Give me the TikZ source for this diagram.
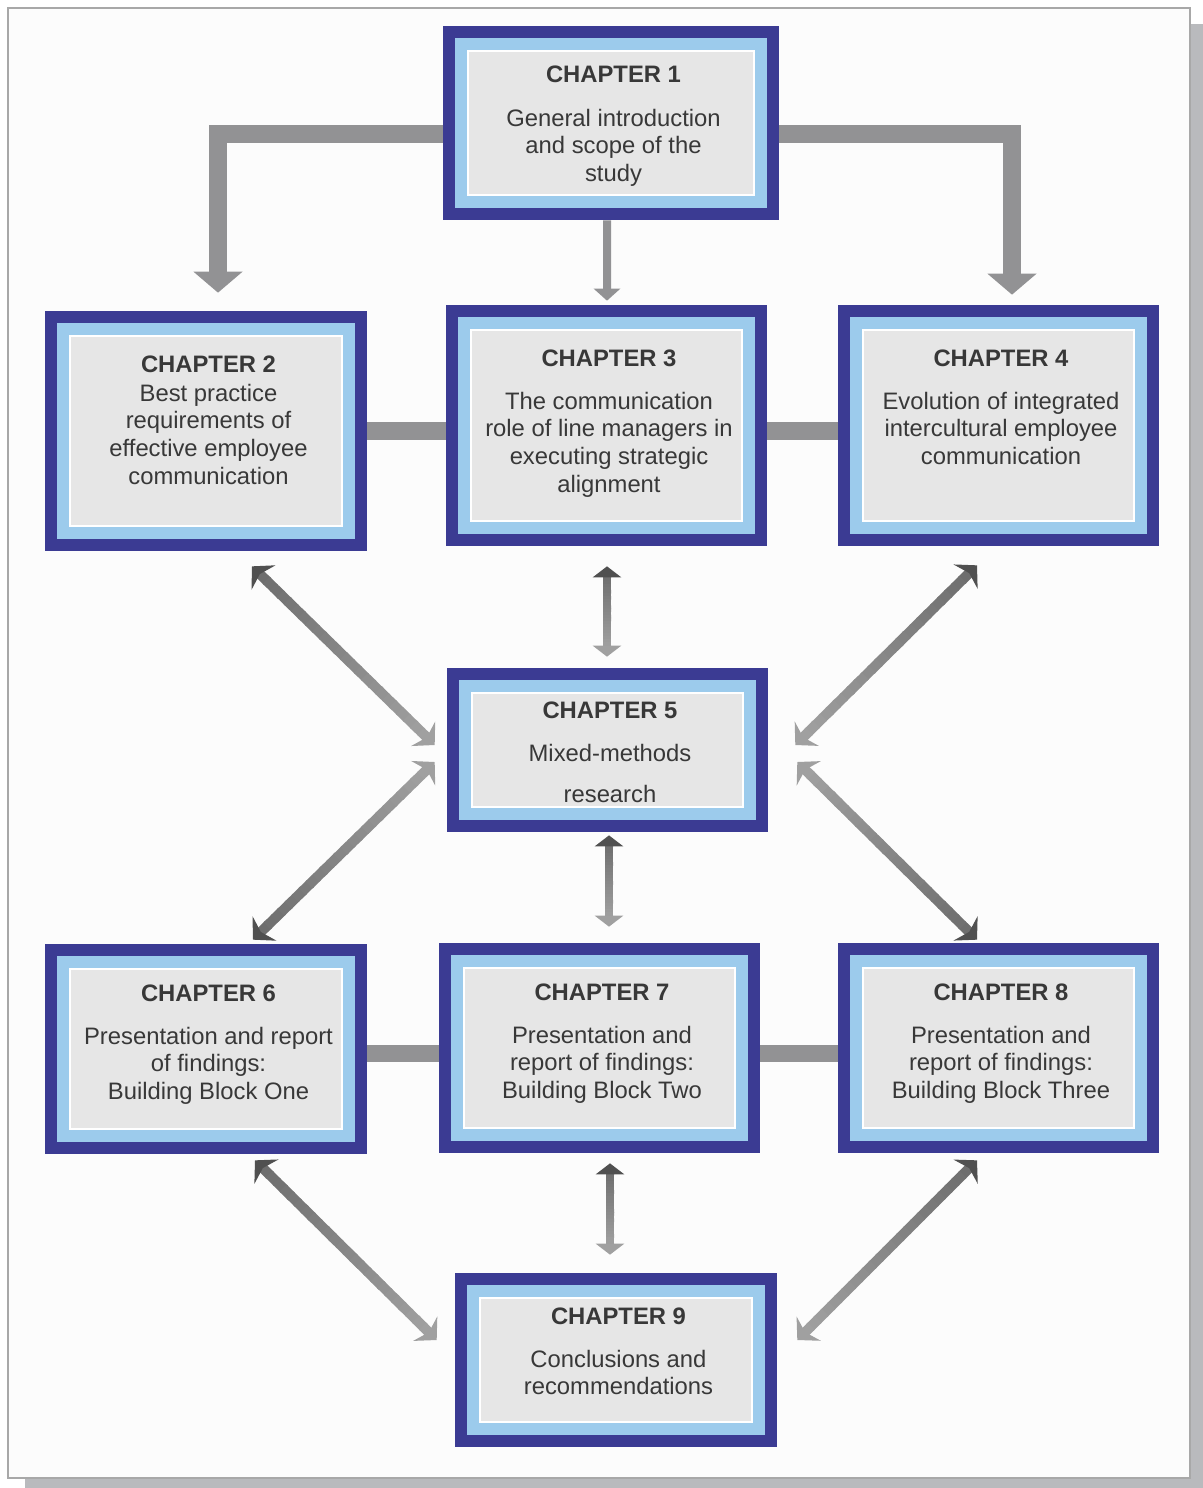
\documentclass[tikz,border=0pt]{standalone}
\usepackage{fontspec}
\setmainfont{Liberation Sans}
\usetikzlibrary{arrows.meta,calc}

\definecolor{dkblue}{HTML}{3B3B93}
\definecolor{ltblue}{HTML}{9CCBEC}
\definecolor{panel}{HTML}{E6E6E6}
\definecolor{txtgray}{HTML}{383838}
\definecolor{bargray}{HTML}{929294}
\definecolor{arrdark}{HTML}{505050}
\definecolor{arrmid}{HTML}{6E6E6E}
\definecolor{arrlight}{HTML}{A0A0A0}
\definecolor{framegray}{HTML}{A8A8A8}
\definecolor{shadowgray}{HTML}{B9BABD}

\newcommand\chfont{\fontsize{13.55pt}{15.75pt}\selectfont}

% double-headed connector whose colour fades from the first end to the second
% #1 dark end, #2 light end, #3 shaft width, #4 tip, #5 shaft set-back from each tip
\newcommand\gradarrow[5]{%
  \coordinate (gaS) at ($(#1)!#5!(#2)$);
  \coordinate (gaE) at ($(#2)!#5!(#1)$);
  \foreach \k in {0,...,23}{%
    \pgfmathsetmacro\ka{\k/24}%
    \pgfmathsetmacro\kb{min((\k+1.2)/24,1)}%
    \pgfmathtruncatemacro\mx{100-\k*100/23}%
    \draw[line width=#3, draw=arrmid!\mx!arrlight] ($(gaS)!\ka!(gaE)$) -- ($(gaS)!\kb!(gaE)$);
  }%
  \draw[line width=#3, arrdark, -{#4}] (gaS) -- (#1);
  \draw[line width=#3, arrlight, -{#4}] (gaE) -- (#2);
}

\tikzset{
  chbox/.style 2 args={rectangle, inner sep=0, minimum width=#1, minimum height=#2,
    fill=dkblue, path picture={
      \fill[ltblue] ([shift={(0.24cm,-0.24cm)}]path picture bounding box.north west)
        rectangle ([shift={(-0.24cm,0.24cm)}]path picture bounding box.south east);
      \fill[white] ([shift={(0.48cm,-0.48cm)}]path picture bounding box.north west)
        rectangle ([shift={(-0.48cm,0.48cm)}]path picture bounding box.south east);
      \fill[panel] ([shift={(0.52cm,-0.52cm)}]path picture bounding box.north west)
        rectangle ([shift={(-0.52cm,0.52cm)}]path picture bounding box.south east);
    }},
  titletxt/.style={font=\chfont\bfseries, text=txtgray, anchor=base, inner sep=0},
  bodytxt/.style={font=\chfont, text=txtgray, anchor=base, inner sep=0},
  heavybar/.style={draw=bargray, line width=0.35cm},
  thinshaft/.style={draw=bargray, line width=0.16cm},
  diaghead/.style={},
}

\begin{document}
\begin{tikzpicture}[x=0.02cm, y=-0.02cm]
  \useasboundingbox (0,0) rectangle (1203,1488);
  \fill[white] (0,0) rectangle (1203,1488);

  % page frame with drop shadow
  \fill[shadowgray] (1191,24) -- (1203,24) -- (1203,1488) -- (25,1488) -- (25,1479) -- (1191,1479) -- cycle;
  \fill[white!99!black] (8,8) rectangle (1190,1478);
  \draw[framegray, line width=0.04cm] (8,8) rectangle (1190,1478);

  % chapter boxes
  \node[chbox={6.72cm}{3.88cm}] (c1) at (611,123) {};
  \node[chbox={6.44cm}{4.80cm}] (c2) at (206,431) {};
  \node[chbox={6.42cm}{4.82cm}] (c3) at (606.5,425.5) {};
  \node[chbox={6.42cm}{4.82cm}] (c4) at (998.5,425.5) {};
  \node[chbox={6.42cm}{3.28cm}] (c5) at (607.5,750) {};
  \node[chbox={6.44cm}{4.20cm}] (c6) at (206,1049) {};
  \node[chbox={6.42cm}{4.20cm}] (c7) at (599.5,1048) {};
  \node[chbox={6.42cm}{4.20cm}] (c8) at (998.5,1048) {};
  \node[chbox={6.44cm}{3.48cm}] (c9) at (616,1360) {};

  % chapter texts
  \node[titletxt] (t1) at ([shift={(2.5,-41)}]c1.center) {CHAPTER 1};
  \node[bodytxt] (b1) at ([shift={(2.5,3)}]c1.center)
    {\begin{tabular}[t]{@{}c@{}}General introduction\\and scope of the\\study\end{tabular}};

  \node[titletxt] (t2) at ([shift={(2.5,-59)}]c2.center) {CHAPTER 2};
  \node[bodytxt] (b2) at ([shift={(2.5,-30)}]c2.center)
    {\begin{tabular}[t]{@{}c@{}}Best practice\\requirements of\\effective employee\\communication\end{tabular}};

  \node[titletxt] (t3) at ([shift={(2.5,-59.5)}]c3.center) {CHAPTER 3};
  \node[bodytxt] (b3) at ([shift={(2.5,-16.5)}]c3.center)
    {\begin{tabular}[t]{@{}c@{}}The communication\\role of line managers in\\executing strategic\\alignment\end{tabular}};

  \node[titletxt] (t4) at ([shift={(2.5,-59.5)}]c4.center) {CHAPTER 4};
  \node[bodytxt] (b4) at ([shift={(2.5,-16.5)}]c4.center)
    {\begin{tabular}[t]{@{}c@{}}Evolution of integrated\\intercultural employee\\communication\end{tabular}};

  \node[titletxt] (t5) at ([shift={(2.5,-32)}]c5.center) {CHAPTER 5};
  \node[bodytxt] (b5) at ([shift={(2.5,11)}]c5.center)
    {\begin{tabular}[t]{@{}c@{}}Mixed-methods\\[8pt]research\end{tabular}};

  \node[titletxt] (t6) at ([shift={(2.5,-48)}]c6.center) {CHAPTER 6};
  \node[bodytxt] (b6) at ([shift={(2.5,-5)}]c6.center)
    {\begin{tabular}[t]{@{}c@{}}Presentation and report\\of findings:\\Building Block One\end{tabular}};

  \node[titletxt] (t7) at ([shift={(2.5,-48)}]c7.center) {CHAPTER 7};
  \node[bodytxt] (b7) at ([shift={(2.5,-5)}]c7.center)
    {\begin{tabular}[t]{@{}c@{}}Presentation and\\report of findings:\\Building Block Two\end{tabular}};

  \node[titletxt] (t8) at ([shift={(2.5,-48)}]c8.center) {CHAPTER 8};
  \node[bodytxt] (b8) at ([shift={(2.5,-5)}]c8.center)
    {\begin{tabular}[t]{@{}c@{}}Presentation and\\report of findings:\\Building Block Three\end{tabular}};

  \node[titletxt] (t9) at ([shift={(2.5,-36)}]c9.center) {CHAPTER 9};
  \node[bodytxt] (b9) at ([shift={(2.5,7)}]c9.center)
    {\begin{tabular}[t]{@{}c@{}}Conclusions and\\recommendations\end{tabular}};

  % elbow arrows leaving chapter 1
  \draw[heavybar, -{Triangle[length=0.42cm,width=0.96cm]}]
    ([shift={(0,11)}]c1.west) -| ([shift={(12,-18)}]c2.north);
  \draw[heavybar, -{Triangle[length=0.42cm,width=0.96cm]}]
    ([shift={(0,11)}]c1.east) -| ([shift={(13.5,-10)}]c4.north);
  \draw[thinshaft, -{Triangle[length=0.24cm,width=0.52cm]}]
    ([shift={(-4,0)}]c1.south) -- ([shift={(0.5,-4)}]c3.north);

  % horizontal links between neighbouring chapters
  \draw[heavybar] (c2.east) -- (c2.east -| c3.west);
  \draw[heavybar] (c3.east |- c2.east) -- (c4.west |- c2.east);
  \coordinate (m67) at ([shift={(0,4.5)}]c6.east);
  \draw[heavybar] (m67) -- (m67 -| c7.west);
  \draw[heavybar] (c7.east |- m67) -- (c8.west |- m67);

  % end points of the two-way arrows
  \coordinate (d25a) at ([shift={(46,15)}]c2.south);
  \coordinate (d25b) at ([shift={(-12,-5)}]c5.west);
  \coordinate (d45a) at ([shift={(-21.5,19)}]c4.south);
  \coordinate (d45b) at ([shift={(27,-5)}]c5.east);
  \coordinate (d56a) at ([shift={(47,-4)}]c6.north);
  \coordinate (d56b) at ([shift={(-12,12)}]c5.west);
  \coordinate (d58a) at ([shift={(-21.5,-3)}]c8.north);
  \coordinate (d58b) at ([shift={(29,12)}]c5.east);
  \coordinate (d35a) at ([shift={(0.5,20)}]c3.south);
  \coordinate (d35b) at ([shift={(-0.5,-11)}]c5.north);
  \coordinate (d57a) at ([shift={(1.5,3)}]c5.south);
  \coordinate (d57b) at ([shift={(9.5,-16)}]c7.north);
  \coordinate (d69a) at ([shift={(49,6)}]c6.south);
  \coordinate (d69b) at ([shift={(-18,-20)}]c9.west);
  \coordinate (d79a) at ([shift={(10.5,10)}]c7.south);
  \coordinate (d79b) at ([shift={(-6,-18)}]c9.north);
  \coordinate (d89a) at ([shift={(-21.5,7)}]c8.south);
  \coordinate (d89b) at ([shift={(20,-20)}]c9.east);

  % two-way arrows
  \gradarrow{d25a}{d25b}{0.2cm}{Stealth[length=0.32cm,width=0.68cm,inset=0.1cm]}{0.2cm}
  \gradarrow{d45a}{d45b}{0.2cm}{Stealth[length=0.32cm,width=0.68cm,inset=0.1cm]}{0.2cm}
  \gradarrow{d56a}{d56b}{0.2cm}{Stealth[length=0.32cm,width=0.68cm,inset=0.1cm]}{0.2cm}
  \gradarrow{d58a}{d58b}{0.2cm}{Stealth[length=0.32cm,width=0.68cm,inset=0.1cm]}{0.2cm}
  \gradarrow{d69a}{d69b}{0.2cm}{Stealth[length=0.32cm,width=0.68cm,inset=0.1cm]}{0.2cm}
  \gradarrow{d89a}{d89b}{0.2cm}{Stealth[length=0.32cm,width=0.68cm,inset=0.1cm]}{0.2cm}
  \gradarrow{d35a}{d35b}{0.16cm}{Triangle[length=0.22cm,width=0.56cm]}{0.16cm}
  \gradarrow{d57a}{d57b}{0.16cm}{Triangle[length=0.22cm,width=0.56cm]}{0.16cm}
  \gradarrow{d79a}{d79b}{0.16cm}{Triangle[length=0.22cm,width=0.56cm]}{0.16cm}
\end{tikzpicture}
\end{document}
